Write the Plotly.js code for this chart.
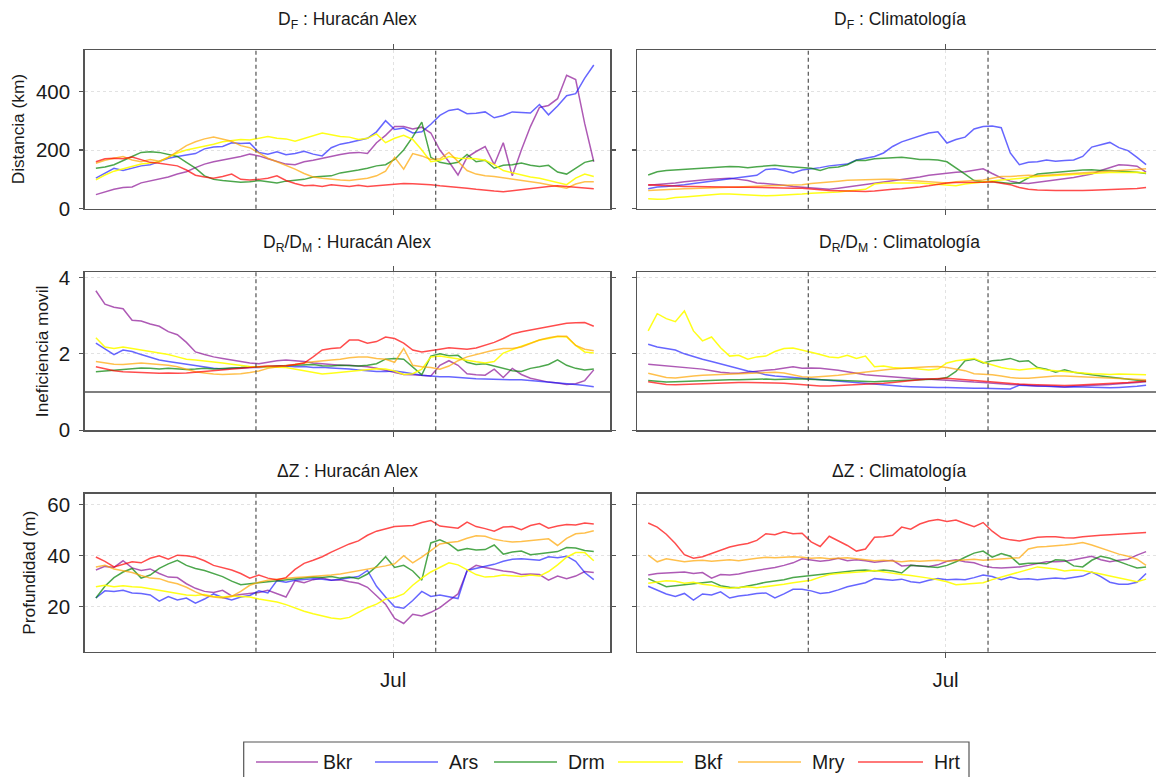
<!DOCTYPE html>
<html>
<head>
<meta charset="utf-8">
<script src="https://cdn.plot.ly/plotly-3.0.1.min.js"></script>
<style>
  html, body { margin: 0; padding: 0; background: #ffffff; overflow: hidden; }
  #chart { width: 1170px; height: 777px; }
</style>
</head>
<body>
<div id="chart"></div>
<script>
// Stations and their line colours
const stations = ['Bkr', 'Ars', 'Drm', 'Bkf', 'Mry', 'Hrt'];
const stationColors = ['rgba(140,20,150,0.70)', 'rgba(20,20,255,0.65)', 'rgba(0,130,0,0.70)',
                       'rgba(255,255,0,0.90)', 'rgba(255,165,0,0.70)', 'rgba(255,0,0,0.70)'];

// Time axis: one value every 9.5 h starting 18 June 2010
const seriesStart = Date.UTC(2010, 5, 18, 0, 0);
const stepHours = 9.5;
const nPoints = 56;

// Event markers (dashed) and month tick
const eventDates = ['2010-06-25 00:00', '2010-07-02 20:38'];
const monthTickVals = ['2010-07-01'];
const monthTickText = ['Jul'];

// ---- D_F (km) : Huracán Alex ----
const dfAlexBkr = [48,58,66,72,74,88,95,100,108,118,126,140,152,160,166,170,178,186,180,170,160,152,150,160,165,172,178,185,190,192,188,225,250,280,280,272,278,258,200,160,115,175,195,212,150,225,112,200,280,345,352,375,455,440,290,160];
const dfAlexArs = [104,122,138,130,138,146,150,162,172,178,184,188,204,210,212,225,222,224,192,186,194,184,188,196,186,180,208,220,226,234,240,262,300,270,275,258,262,288,318,335,340,324,325,330,310,318,330,328,326,355,320,350,385,392,445,490];
const dfAlexDrm = [138,142,150,165,178,192,194,192,186,178,158,138,112,100,96,94,90,92,96,92,88,94,96,100,108,110,112,122,126,132,138,146,150,168,200,245,295,175,158,152,158,185,160,165,138,148,150,156,148,144,148,125,118,138,158,165];
const dfAlexBkf = [98,115,128,136,142,152,156,160,176,190,200,206,212,220,228,232,236,234,240,246,240,238,230,240,248,258,252,246,244,236,240,255,225,240,250,236,200,160,165,178,172,172,170,165,150,130,122,115,108,104,96,88,82,104,118,110];
const dfAlexMry = [155,165,172,178,166,160,168,162,175,196,215,228,238,244,238,230,215,208,190,172,160,148,135,120,108,104,100,98,96,100,104,112,128,175,135,188,180,168,170,192,160,130,118,112,110,106,100,96,94,88,82,76,70,84,92,92];
const dfAlexHrt = [160,170,172,170,176,166,158,155,150,146,132,114,108,104,110,118,100,98,100,104,112,96,86,78,80,76,82,80,76,80,76,78,80,84,86,85,84,82,78,76,72,70,66,62,60,58,62,66,70,74,76,78,76,74,70,68];

// ---- D_F (km) : Climatología ----
const dfClimBkr = [80,82,85,88,92,96,98,100,102,104,100,96,88,86,82,80,76,74,70,68,66,70,74,78,82,86,90,94,98,104,108,114,118,122,124,126,130,136,120,105,94,88,86,90,94,96,100,106,112,118,130,140,150,148,145,125];
const dfClimArs = [68,74,76,78,82,86,90,94,98,104,108,112,114,134,136,130,122,132,135,140,146,148,152,166,172,178,190,212,228,238,250,258,262,224,236,244,272,280,282,276,190,150,158,160,166,162,164,166,178,210,218,226,208,198,175,150];
const dfClimDrm = [115,126,130,132,134,138,140,140,142,144,143,140,143,145,148,145,142,140,138,130,140,142,150,165,164,170,172,174,175,172,168,168,166,160,140,118,96,92,93,90,86,88,105,118,121,123,126,128,132,133,130,130,128,127,124,120];
const dfClimBkf = [34,32,33,38,40,43,46,48,50,50,48,46,44,44,45,46,48,50,53,54,56,57,60,62,66,84,88,88,89,88,88,86,84,80,78,84,88,92,95,98,100,102,106,110,112,113,115,117,119,120,122,123,122,123,124,122];
const dfClimMry = [62,64,66,67,68,69,70,71,72,74,75,76,77,78,78,80,81,82,86,88,92,94,97,98,100,100,100,100,98,98,96,94,92,88,92,94,96,98,104,110,110,112,114,112,114,116,118,120,122,124,126,128,130,132,134,136];
const dfClimHrt = [82,80,78,77,76,76,75,75,74,74,73,73,72,72,72,71,70,70,67,64,62,61,60,59,59,60,64,66,68,70,74,78,84,88,89,89,89,90,92,88,82,72,66,64,62,62,62,61,62,63,64,65,66,67,69,72];

// ---- D_R/D_M : Huracán Alex ----
const drAlexBkr = [3.65,3.30,3.22,3.18,2.88,2.86,2.78,2.72,2.58,2.50,2.30,2.05,1.98,1.92,1.88,1.84,1.80,1.76,1.74,1.78,1.82,1.84,1.82,1.80,1.76,1.74,1.72,1.70,1.70,1.68,1.66,1.62,1.56,1.50,1.46,1.45,1.44,1.42,1.70,1.82,1.70,1.48,1.45,1.44,1.60,1.38,1.62,1.46,1.36,1.30,1.26,1.24,1.20,1.22,1.30,1.58];
const drAlexArs = [2.28,2.12,1.98,2.10,2.06,1.98,1.90,1.84,1.80,1.76,1.72,1.68,1.64,1.62,1.60,1.62,1.62,1.64,1.64,1.65,1.66,1.68,1.66,1.67,1.64,1.65,1.63,1.62,1.60,1.58,1.56,1.54,1.54,1.55,1.52,1.48,1.44,1.42,1.40,1.40,1.38,1.36,1.35,1.34,1.33,1.32,1.32,1.32,1.30,1.29,1.26,1.24,1.22,1.20,1.17,1.14];
const drAlexDrm = [1.53,1.55,1.56,1.58,1.60,1.63,1.62,1.60,1.62,1.60,1.59,1.60,1.62,1.60,1.61,1.63,1.64,1.66,1.66,1.67,1.68,1.69,1.70,1.71,1.72,1.69,1.68,1.70,1.69,1.68,1.70,1.74,1.86,1.88,1.86,1.66,1.45,1.94,2.00,1.95,1.96,1.78,1.72,1.74,1.68,1.62,1.56,1.54,1.62,1.66,1.72,1.84,1.70,1.62,1.58,1.60];
const drAlexBkf = [2.42,2.18,2.14,2.18,2.14,2.10,2.06,2.02,1.98,1.92,1.86,1.84,1.82,1.79,1.76,1.73,1.70,1.67,1.66,1.66,1.65,1.64,1.60,1.55,1.50,1.47,1.49,1.51,1.53,1.56,1.58,1.61,1.60,1.55,1.46,1.48,1.60,1.92,1.94,1.90,1.86,1.82,1.79,1.76,1.80,2.02,2.12,2.20,2.28,2.36,2.40,2.45,2.44,2.22,2.05,2.02];
const drAlexMry = [1.80,1.76,1.73,1.72,1.74,1.76,1.74,1.72,1.70,1.66,1.60,1.53,1.50,1.47,1.46,1.47,1.48,1.51,1.55,1.62,1.66,1.68,1.72,1.76,1.79,1.82,1.84,1.86,1.90,1.92,1.92,1.88,1.86,1.78,2.14,1.70,1.66,1.64,1.60,1.68,1.82,1.92,1.98,2.04,2.10,2.14,2.14,2.18,2.28,2.36,2.42,2.46,2.46,2.22,2.12,2.08];
const drAlexHrt = [1.66,1.60,1.56,1.53,1.52,1.50,1.49,1.49,1.50,1.49,1.50,1.52,1.54,1.56,1.58,1.60,1.63,1.65,1.67,1.68,1.68,1.69,1.72,1.76,1.92,2.10,2.14,2.16,2.36,2.36,2.28,2.32,2.44,2.40,2.28,2.10,2.05,2.08,2.12,2.16,2.14,2.12,2.15,2.22,2.30,2.40,2.52,2.58,2.62,2.66,2.70,2.76,2.80,2.81,2.82,2.72];

// ---- D_R/D_M : Climatología ----
const drClimBkr = [1.73,1.71,1.70,1.68,1.66,1.63,1.60,1.56,1.52,1.50,1.49,1.52,1.55,1.57,1.59,1.63,1.66,1.62,1.63,1.62,1.60,1.57,1.53,1.48,1.45,1.43,1.41,1.40,1.38,1.36,1.35,1.33,1.32,1.31,1.29,1.27,1.26,1.25,1.23,1.21,1.20,1.19,1.17,1.16,1.16,1.14,1.13,1.15,1.16,1.17,1.19,1.20,1.22,1.23,1.25,1.27];
const drClimArs = [2.25,2.18,2.14,2.10,2.00,1.92,1.86,1.80,1.74,1.66,1.60,1.55,1.52,1.45,1.42,1.40,1.38,1.36,1.34,1.32,1.30,1.28,1.26,1.24,1.22,1.20,1.18,1.16,1.15,1.14,1.13,1.13,1.12,1.12,1.11,1.11,1.10,1.10,1.09,1.09,1.08,1.18,1.17,1.15,1.14,1.13,1.13,1.14,1.13,1.12,1.11,1.11,1.12,1.13,1.15,1.18];
const drClimDrm = [1.30,1.28,1.26,1.27,1.28,1.29,1.30,1.31,1.32,1.32,1.32,1.33,1.33,1.34,1.33,1.34,1.34,1.34,1.33,1.32,1.31,1.30,1.30,1.29,1.28,1.27,1.28,1.29,1.30,1.31,1.32,1.33,1.34,1.38,1.54,1.82,1.86,1.76,1.82,1.84,1.88,1.80,1.82,1.64,1.60,1.52,1.58,1.52,1.48,1.45,1.42,1.39,1.36,1.33,1.31,1.28];
const drClimBkf = [2.60,3.05,2.92,2.84,3.12,2.60,2.34,2.44,2.16,1.94,1.96,1.86,1.92,1.94,2.06,2.14,2.15,2.10,2.04,1.98,1.92,1.90,1.96,1.88,1.94,1.66,1.68,1.64,1.62,1.62,1.60,1.58,1.60,1.76,1.82,1.86,1.88,1.78,1.70,1.64,1.60,1.58,1.60,1.62,1.58,1.56,1.53,1.51,1.49,1.48,1.47,1.46,1.47,1.47,1.46,1.45];
const drClimMry = [1.49,1.43,1.38,1.37,1.40,1.42,1.44,1.45,1.46,1.47,1.48,1.49,1.50,1.51,1.52,1.50,1.44,1.40,1.39,1.40,1.42,1.44,1.47,1.50,1.52,1.55,1.58,1.60,1.62,1.64,1.65,1.66,1.67,1.64,1.60,1.56,1.48,1.47,1.45,1.42,1.38,1.36,1.36,1.38,1.40,1.42,1.42,1.41,1.40,1.39,1.38,1.37,1.36,1.35,1.34,1.32];
const drClimHrt = [1.27,1.23,1.20,1.19,1.20,1.21,1.22,1.23,1.24,1.25,1.25,1.25,1.25,1.24,1.24,1.23,1.21,1.19,1.17,1.16,1.16,1.17,1.17,1.18,1.19,1.21,1.23,1.25,1.28,1.30,1.32,1.34,1.35,1.36,1.34,1.32,1.30,1.28,1.26,1.24,1.23,1.21,1.20,1.19,1.18,1.17,1.17,1.18,1.19,1.20,1.21,1.22,1.23,1.25,1.27,1.29];

// ---- ΔZ (m) : Huracán Alex ----
const dzAlexBkr = [34.4,35.8,35.4,38.0,35.2,34.2,34.8,33.0,31.6,31.4,29.0,27.2,26.0,25.6,26.4,24.2,24.8,25.2,25.6,26.4,25.0,23.8,30.2,29.4,30.6,31.2,30.4,30.6,29.8,29.2,27.6,24.4,21.0,15.4,13.4,17.0,16.4,17.8,19.6,22.4,25.0,34.0,36.2,35.4,34.6,34.0,33.6,32.6,32.8,32.6,30.4,32.0,31.0,32.0,33.8,33.4];
const dzAlexArs = [23.4,26.2,26.0,26.4,25.4,25.2,24.6,22.2,24.0,22.6,23.4,21.4,23.0,25.0,23.6,22.6,23.8,24.4,26.2,25.4,30.2,29.6,30.4,30.6,31.0,30.8,30.4,30.8,31.2,31.8,34.2,28.0,23.8,20.0,19.4,22.4,26.0,24.0,24.6,23.8,23.2,34.2,35.0,35.8,36.6,37.8,38.6,38.8,38.6,38.2,39.6,39.2,39.8,37.8,33.4,30.6];
const dzAlexDrm = [23.4,28.0,31.4,33.6,35.0,31.2,32.4,35.0,36.8,38.2,36.2,35.0,34.2,33.0,31.8,30.0,28.6,29.0,29.4,29.6,30.2,30.6,31.0,31.2,31.6,31.4,31.8,31.2,31.6,31.0,32.8,35.8,39.6,35.4,36.2,34.0,30.4,45.0,46.2,44.6,42.0,42.8,42.2,42.4,44.2,40.6,41.4,41.8,40.4,40.8,41.2,41.6,43.2,43.0,42.0,41.6];
const dzAlexBkf = [27.8,28.4,27.8,28.2,27.8,27.6,27.0,26.4,25.8,25.2,24.6,24.4,24.8,24.0,23.8,24.2,24.0,23.8,23.0,22.4,21.8,20.8,19.4,18.2,17.2,16.4,15.6,15.2,15.8,17.8,19.6,21.0,23.0,23.6,25.0,28.4,31.2,33.6,35.4,37.2,36.4,34.6,32.6,31.6,31.8,32.4,32.0,31.8,32.4,32.0,33.8,36.4,39.4,41.2,41.2,38.0];
const dzAlexMry = [35.6,36.2,34.8,34.2,33.4,32.2,31.2,31.0,29.8,29.0,27.6,25.8,24.4,23.8,23.4,24.0,26.0,28.4,29.6,30.4,30.8,31.0,31.4,31.6,31.8,32.0,32.4,32.8,33.4,34.0,34.8,35.4,36.0,36.8,40.0,37.2,39.4,42.0,44.6,45.2,45.6,46.8,47.8,47.6,46.4,45.8,45.4,45.6,46.0,46.4,46.6,44.0,46.8,48.6,48.9,49.8];
const dzAlexHrt = [39.5,37.8,35.6,36.6,37.6,37.2,39.0,40.0,38.6,40.2,40.0,39.4,38.0,36.2,35.4,34.4,33.0,31.2,32.4,31.2,30.6,31.4,34.6,37.0,38.2,39.6,41.4,43.0,44.6,45.8,48.0,49.6,50.6,51.4,51.6,51.8,53.0,53.8,51.6,51.2,50.8,53.2,51.4,50.6,49.6,51.2,51.4,50.2,51.8,52.6,50.8,51.6,52.2,52.0,52.8,52.4];

// ---- ΔZ (m) : Climatología ----
const dzClimBkr = [32.4,33.0,33.2,33.4,33.6,33.0,33.4,31.2,32.6,32.4,32.8,33.6,34.2,34.6,35.4,36.2,37.2,38.8,38.4,37.8,38.2,39.0,38.0,38.4,38.0,37.4,37.8,38.2,36.0,36.2,36.0,35.8,36.4,37.8,38.4,37.6,37.2,36.0,35.4,35.2,35.4,35.6,36.2,37.0,37.6,37.6,37.8,38.4,39.2,39.8,38.4,37.6,38.2,38.6,40.2,41.6];
const dzClimArs = [28.0,26.6,25.0,24.0,25.2,22.6,25.0,24.6,25.8,23.4,24.2,24.6,25.2,25.4,23.4,25.0,26.8,26.8,26.2,25.2,25.6,26.6,27.8,28.6,29.4,31.0,30.8,30.4,30.8,29.8,29.4,30.4,31.0,30.6,30.8,30.6,31.4,32.4,31.8,30.6,31.6,30.8,31.0,30.6,31.0,31.2,31.0,31.4,32.0,33.6,31.8,29.6,28.8,28.8,29.6,33.0];
const dzClimDrm = [31.0,29.4,27.8,28.2,28.6,29.0,29.6,29.8,28.2,27.6,27.4,28.0,28.8,29.6,30.0,30.6,31.4,31.8,32.4,32.8,33.2,33.6,34.0,34.2,34.4,34.0,34.4,34.0,33.2,36.2,36.0,35.8,35.4,36.2,37.6,39.4,41.0,41.8,39.4,40.8,39.8,36.6,37.0,37.0,36.8,38.4,38.2,36.0,35.6,38.2,39.8,39.0,37.6,36.4,35.2,35.6];
const dzClimBkf = [29.2,29.8,30.2,30.0,29.2,29.6,28.8,28.4,27.6,27.2,27.4,27.8,27.4,27.8,28.2,28.8,29.4,29.8,30.4,31.6,32.6,33.0,33.2,33.4,33.8,34.2,33.6,33.0,32.6,32.2,31.8,31.2,30.6,29.8,28.6,28.8,29.2,29.4,30.6,31.6,32.6,33.6,34.6,35.6,35.2,34.8,34.0,34.4,34.2,33.6,32.8,32.0,31.2,30.4,29.8,30.8];
const dzClimMry = [40.2,37.6,38.8,38.2,37.6,38.0,38.2,37.8,38.2,38.4,38.0,38.6,39.0,39.4,39.2,39.4,39.6,39.4,39.0,39.2,38.8,39.0,39.2,38.8,38.4,38.0,38.2,37.8,37.6,38.0,37.8,38.0,38.2,37.8,38.0,38.4,38.6,38.2,38.4,38.6,38.8,39.2,42.6,43.4,43.6,43.8,44.2,44.6,45.2,44.2,43.0,41.6,40.6,39.8,38.6,36.2];
const dzClimHrt = [52.8,51.2,48.4,44.8,40.4,39.0,39.6,40.8,42.2,43.4,44.2,44.8,46.0,48.6,48.2,49.4,48.6,48.8,45.4,43.6,47.6,45.8,44.0,41.8,42.6,47.2,47.4,48.0,51.2,50.4,52.4,53.6,54.2,53.4,54.0,52.6,51.4,53.0,49.6,47.0,46.2,45.8,46.6,47.2,47.4,47.4,47.0,46.9,47.4,47.8,48.0,48.2,48.5,48.7,48.9,49.1];

// Panel descriptions: title, series, y-axis range and ticks
const panelTitles = [
  'D<sub>F</sub> : Huracán Alex', 'D<sub>F</sub> : Climatología',
  'D<sub>R</sub>/D<sub>M</sub> : Huracán Alex', 'D<sub>R</sub>/D<sub>M</sub> : Climatología',
  '\u0394Z : Huracán Alex', '\u0394Z : Climatología'
];
const panelSeries = [
  [dfAlexBkr, dfAlexArs, dfAlexDrm, dfAlexBkf, dfAlexMry, dfAlexHrt],
  [dfClimBkr, dfClimArs, dfClimDrm, dfClimBkf, dfClimMry, dfClimHrt],
  [drAlexBkr, drAlexArs, drAlexDrm, drAlexBkf, drAlexMry, drAlexHrt],
  [drClimBkr, drClimArs, drClimDrm, drClimBkf, drClimMry, drClimHrt],
  [dzAlexBkr, dzAlexArs, dzAlexDrm, dzAlexBkf, dzAlexMry, dzAlexHrt],
  [dzClimBkr, dzClimArs, dzClimDrm, dzClimBkf, dzClimMry, dzClimHrt]
];
const rowYTitles = ['Distancia (km)', 'Ineficiencia movil', 'Profundidad (m)'];
const rowYRanges = [[0, 541], [0, 4.14], [2.35, 64.3]];
const rowYTicks = [[0, 200, 400], [0, 2, 4], [20, 40, 60]];
const referenceLevel = 1;   // horizontal reference in the D_R/D_M row

// ---------- geometry (pixels) ----------
const W = 1170, H = 777;
const colPx = [[84.7, 610], [637, 1162.3]];
const rowPx = [[50, 208.7], [272, 430.3], [493.7, 651.7]];
const yTitleX = [18, 42, 29];
const titleY = [21, 243, 471];
const px = v => v / W;
const py = v => 1 - v / H;

function pad(n) { return String(n).padStart(2, '0'); }
const times = [];
for (let i = 0; i < nPoints; i++) {
  const d = new Date(seriesStart + i * stepHours * 3600 * 1000);
  times.push(d.getUTCFullYear() + '-' + pad(d.getUTCMonth() + 1) + '-' + pad(d.getUTCDate()) +
             ' ' + pad(d.getUTCHours()) + ':' + pad(d.getUTCMinutes()));
}

const FONT = 'Liberation Sans, Arial, Helvetica, sans-serif';
const frameColor = '#555555';
const gridStyle = { showgrid: true, gridcolor: '#e2e2e2', griddash: 'dot', gridwidth: 1 };

const traces = [];
const layout = {
  width: W, height: H,
  margin: { l: 0, r: 0, t: 0, b: 0 },
  paper_bgcolor: '#ffffff', plot_bgcolor: '#ffffff',
  showlegend: false, hovermode: false,
  font: { family: FONT, color: '#1a1a1a' },
  shapes: [], annotations: []
};

for (let p = 0; p < 6; p++) {
  const row = Math.floor(p / 2), col = p % 2;
  const k = p + 1;
  const xa = 'x' + (k === 1 ? '' : k), ya = 'y' + (k === 1 ? '' : k);
  const xName = 'xaxis' + (k === 1 ? '' : k), yName = 'yaxis' + (k === 1 ? '' : k);

  panelSeries[p].forEach((vals, s) => {
    traces.push({
      type: 'scatter', mode: 'lines', x: times, y: vals, name: stations[s],
      xaxis: xa, yaxis: ya,
      line: { color: stationColors[s], width: 1.5 }
    });
  });

  layout[xName] = Object.assign({
    type: 'date', anchor: ya,
    domain: [px(colPx[col][0]), px(colPx[col][1])],
    range: ['2010-06-17 12:16', '2010-07-10 11:31'],
    tickmode: 'array', tickvals: monthTickVals, ticktext: monthTickText,
    showticklabels: row === 2,
    ticks: 'outside', ticklen: 5, tickwidth: 1.2, tickcolor: frameColor,
    tickfont: { family: FONT, size: 20.5, color: '#1a1a1a' }, ticklabelstandoff: 4,
    showline: true, linecolor: frameColor, linewidth: 1.5, mirror: 'ticks',
    zeroline: false, fixedrange: true
  }, gridStyle);

  layout[yName] = Object.assign({
    anchor: xa,
    domain: [py(rowPx[row][1]), py(rowPx[row][0])],
    range: rowYRanges[row],
    tickmode: 'array', tickvals: rowYTicks[row],
    showticklabels: col === 0,
    ticks: 'outside', ticklen: 4, tickwidth: 1.2, tickcolor: frameColor,
    tickfont: { family: FONT, size: 20.5, color: '#1a1a1a' }, ticklabelstandoff: 5,
    showline: true, linecolor: frameColor, linewidth: 1.5, mirror: 'ticks',
    zeroline: false, fixedrange: true
  }, gridStyle);

  // dashed event markers
  eventDates.forEach(d => {
    layout.shapes.push({
      type: 'line', xref: xa, yref: ya + ' domain', x0: d, x1: d, y0: 0, y1: 1,
      line: { color: '#444444', width: 1.1, dash: '4px,3px' }, layer: 'above'
    });
  });

  // reference level for the inefficiency row
  if (row === 1) {
    layout.shapes.push({
      type: 'line', xref: xa + ' domain', yref: ya, x0: 0, x1: 1,
      y0: referenceLevel, y1: referenceLevel,
      line: { color: frameColor, width: 1.4 }, layer: 'above'
    });
  }

  // panel title
  layout.annotations.push({
    xref: 'paper', yref: 'paper',
    x: px((colPx[col][0] + colPx[col][1]) / 2), y: py(titleY[row]),
    xanchor: 'center', yanchor: 'middle', showarrow: false,
    text: panelTitles[p], font: { family: FONT, size: 17.5, color: '#1a1a1a' }
  });
}

// y-axis titles
rowYTitles.forEach((t, row) => {
  layout.annotations.push({
    xref: 'paper', yref: 'paper',
    x: px(yTitleX[row]), y: py((rowPx[row][0] + rowPx[row][1]) / 2),
    xanchor: 'center', yanchor: 'middle', textangle: -90, showarrow: false,
    text: t, font: { family: FONT, size: 17.3, color: '#1a1a1a' }
  });
});

// legend box with one sample line per station
const legendBox = { x0: 243.7, x1: 969, y0: 742, y1: 800 };
const legendRowY = 762;
const legendLineX = [[256, 318], [375, 438], [494, 557], [618, 683], [738, 801], [858, 923]];
const legendTextX = [321, 447, 566, 692, 810, 932];
layout.shapes.push({
  type: 'rect', xref: 'paper', yref: 'paper',
  x0: px(legendBox.x0), x1: px(legendBox.x1), y0: py(legendBox.y1), y1: py(legendBox.y0),
  line: { color: frameColor, width: 1.2 }, fillcolor: 'rgba(0,0,0,0)'
});
stations.forEach((name, s) => {
  layout.shapes.push({
    type: 'line', xref: 'paper', yref: 'paper',
    x0: px(legendLineX[s][0]), x1: px(legendLineX[s][1]), y0: py(legendRowY), y1: py(legendRowY),
    line: { color: stationColors[s], width: 1.6 }
  });
  layout.annotations.push({
    xref: 'paper', yref: 'paper', x: px(legendTextX[s]), y: py(legendRowY),
    xanchor: 'left', yanchor: 'middle', showarrow: false,
    text: name, font: { family: FONT, size: 19.5, color: '#1a1a1a' }
  });
});

Plotly.newPlot('chart', traces, layout, { staticPlot: true, displayModeBar: false });
</script>
</body>
</html>
